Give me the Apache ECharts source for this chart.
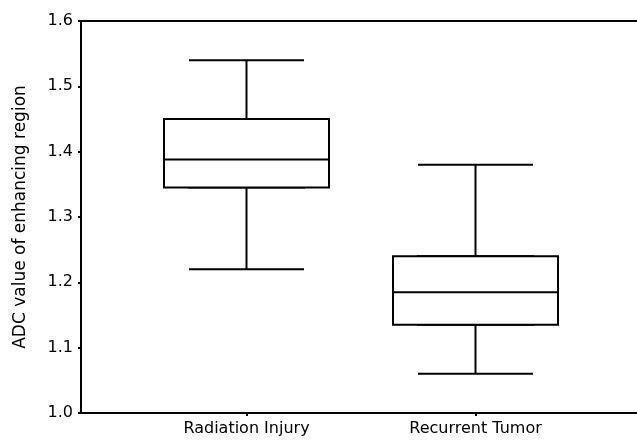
<!DOCTYPE html>
<html>
<head>
<meta charset="utf-8">
<script src="https://cdn.jsdelivr.net/npm/echarts@6/dist/echarts.min.js"></script>
<style>
  html, body { margin: 0; padding: 0; background: #fff; }
  #chart { width: 637px; height: 440px; }
</style>
</head>
<body>
<div id="chart"></div>
<script>
var categories = ['Radiation Injury', 'Recurrent Tumor'];
// five-number summaries: min, Q1, median, Q3, max
var boxMin = [1.22, 1.06];
var boxQ1 = [1.345, 1.135];
var boxMedian = [1.388, 1.185];
var boxQ3 = [1.45, 1.24];
var boxMax = [1.54, 1.38];
var yTicks = [1.0, 1.1, 1.2, 1.3, 1.4, 1.5, 1.6];

var fullData = [];
var boxOnly = [];
for (var i = 0; i < categories.length; i++) {
    fullData.push([boxMin[i], boxQ1[i], boxMedian[i], boxQ3[i], boxMax[i]]);
    // wide box on top, whiskers collapse onto the box edges
    boxOnly.push([boxQ1[i], boxQ1[i], boxMedian[i], boxQ3[i], boxQ3[i]]);
}

var font = 'DejaVu Sans';
var ink = '#000';

var chart = echarts.init(document.getElementById('chart'));
var option = {
    animation: false,
    backgroundColor: '#fff',
    grid: [
        {left: 81, right: 0, top: 21, bottom: 27},
        {left: 132, right: 47, top: 21, bottom: 27}
    ],
    xAxis: [
        {
            gridIndex: 0, type: 'value', min: 0, max: 1, position: 'bottom',
            axisLine: {show: true, lineStyle: {color: ink, width: 2}},
            axisTick: {show: false}, axisLabel: {show: false}, splitLine: {show: false}
        },
        {
            gridIndex: 0, type: 'value', min: 0, max: 1, position: 'top',
            axisLine: {show: true, lineStyle: {color: ink, width: 2}},
            axisTick: {show: false}, axisLabel: {show: false}, splitLine: {show: false}
        },
        {
            gridIndex: 1, type: 'category', data: categories, position: 'bottom',
            axisLine: {show: false},
            axisTick: {show: true, alignWithLabel: true, length: 3, lineStyle: {color: ink, width: 2}},
            axisLabel: {color: ink, fontFamily: font, fontSize: 16, margin: 8},
            splitLine: {show: false}
        },
        {
            gridIndex: 1, type: 'category', data: categories, show: false
        }
    ],
    yAxis: [
        {
            gridIndex: 0, type: 'value', min: yTicks[0], max: yTicks[yTicks.length - 1], interval: 0.1,
            name: 'ADC value of enhancing region',
            nameLocation: 'middle', nameGap: 52, nameRotate: 90,
            nameTextStyle: {color: ink, fontFamily: font, fontSize: 17},
            axisLine: {show: true, lineStyle: {color: ink, width: 2}},
            axisTick: {show: true, length: 3, lineStyle: {color: ink, width: 2}},
            axisLabel: {color: ink, fontFamily: font, fontSize: 16, margin: 8,
                formatter: function (v) { return v.toFixed(1); }},
            splitLine: {show: false}
        },
        {
            gridIndex: 1, type: 'value', min: yTicks[0], max: yTicks[yTicks.length - 1], show: false
        }
    ],
    series: [
        {
            type: 'boxplot', xAxisIndex: 2, yAxisIndex: 1,
            boxWidth: [115, 115],
            data: fullData,
            itemStyle: {color: '#fff', borderColor: ink, borderWidth: 2},
            emphasis: {disabled: true},
            z: 2
        },
        {
            type: 'boxplot', xAxisIndex: 3, yAxisIndex: 1,
            boxWidth: [165, 165],
            data: boxOnly,
            itemStyle: {color: '#fff', borderColor: ink, borderWidth: 2},
            emphasis: {disabled: true},
            z: 3
        }
    ]
};
chart.setOption(option);
</script>
</body>
</html>
